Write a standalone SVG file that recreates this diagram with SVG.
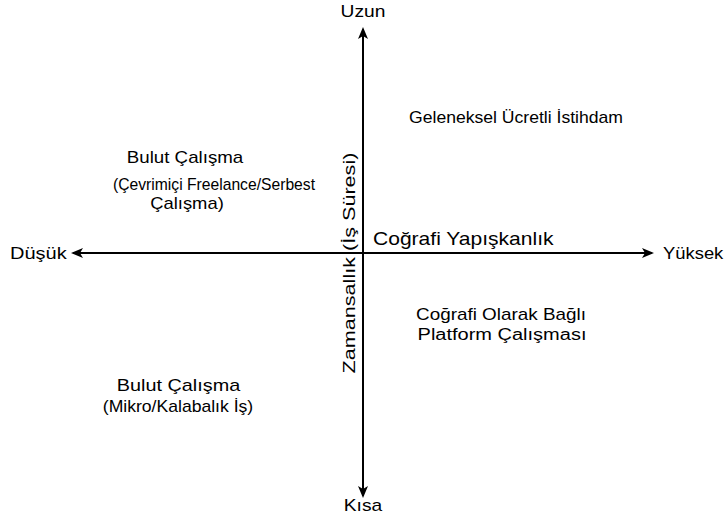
<svg xmlns="http://www.w3.org/2000/svg" width="726" height="515" viewBox="0 0 726 515">
<style>
text{font-family:"Liberation Sans",Arial,sans-serif;font-size:16px;fill:#000}
.m{text-anchor:middle}
.b{font-size:18px}
.ax{stroke:#000;stroke-width:2;fill:none}
</style>
<defs>
<marker id="ah" viewBox="0 0 12 10" refX="10" refY="5" markerWidth="6" markerHeight="5" orient="auto-start-reverse" markerUnits="strokeWidth">
<path d="M0,0 L12,5 L0,10 L3,5 Z" fill="#000"/>
</marker>
</defs>
<rect width="726" height="515" fill="#fff"/>
<g id="connectors">
<line class="ax" x1="363" y1="496" x2="363" y2="29" marker-end="url(#ah)" marker-start="url(#ah)"/>
<line class="ax" x1="73" y1="253" x2="652" y2="253" marker-end="url(#ah)" marker-start="url(#ah)"/>
</g>
<g id="uzun"><text class="m" transform="translate(363,17) scale(1.2,1)">Uzun</text></g>
<g id="kisa"><text class="m" transform="translate(363,511) scale(1.2,1)">Kısa</text></g>
<g id="dusuk"><text transform="translate(10,259) scale(1.25,1)">Düşük</text></g>
<g id="yuksek"><text transform="translate(663,259) scale(1.15,1)">Yüksek</text></g>
<g id="y-label"><text class="m" transform="translate(355,263) rotate(-90) scale(1.35,1)">Zamansallık (İş Süresi)</text></g>
<g id="x-label"><text class="b" transform="translate(373,245) scale(1.17,1)">Coğrafi Yapışkanlık</text></g>
<g id="traditional"><text class="m" transform="translate(516,123) scale(1.1,1)">Geleneksel Ücretli İstihdam</text></g>
<g id="cloud-freelance">
<text class="m" transform="translate(185,163) scale(1.17,1)">Bulut Çalışma</text>
<text class="m" transform="translate(214,190) scale(0.98,1)">(Çevrimiçi Freelance/Serbest</text>
<text class="m" transform="translate(187,209) scale(1.15,1)">Çalışma)</text>
</g>
<g id="geo-platform">
<text class="m" transform="translate(501,320) scale(1.18,1)">Coğrafi Olarak Bağlı</text>
<text class="m" transform="translate(502,340) scale(1.25,1)">Platform Çalışması</text>
</g>
<g id="cloud-micro">
<text class="m" transform="translate(178.5,391) scale(1.24,1)">Bulut Çalışma</text>
<text class="m" transform="translate(178,412) scale(1.1,1)">(Mikro/Kalabalık İş)</text>
</g>
</svg>
